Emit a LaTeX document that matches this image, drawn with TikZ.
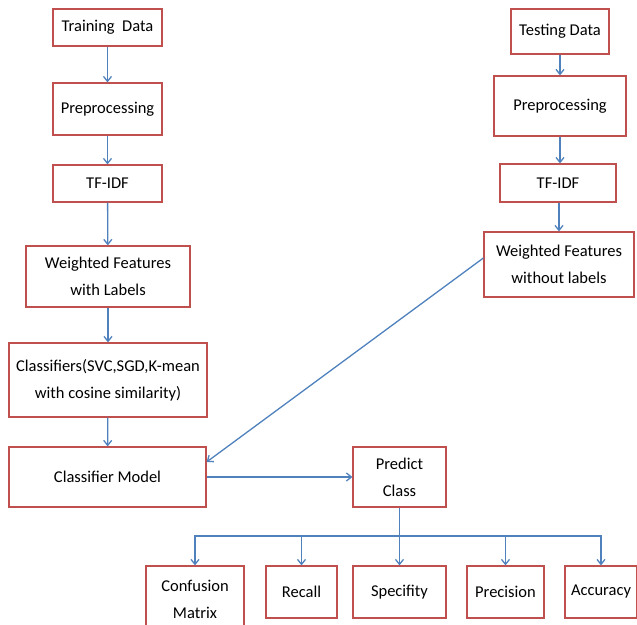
\documentclass[tikz,border=0pt]{standalone}
\usepackage{fontspec}
\setmainfont{Carlito}
\usepackage{tikz}
\usetikzlibrary{arrows.meta, positioning}
\definecolor{boxred}{RGB}{192,80,77}
\definecolor{arrowblue}{RGB}{79,129,189}
\tikzset{
		box/.style={draw=boxred, line width=1.2pt, fill=white, align=center,
			inner sep=2pt, font=\fontsize{16.5}{27}\selectfont},
		flow/.style={draw=arrowblue, line width=1.3pt}
	}

\begin{document}
\begin{tikzpicture}[x=1pt, y=-1pt, >={Straight Barb[length=5pt,width=8pt]}]
				\useasboundingbox (0,0) rectangle (637,624);
				% training side
				\node[box, minimum width=109pt, minimum height=37pt] (train)  at (107.5,27.5) {Training\ \ Data};
				\node[box, minimum width=109pt, minimum height=52pt] (prepL)  at (107.5,109)  {Preprocessing};
				\node[box, minimum width=109pt, minimum height=37pt] (tfidfL) at (107.5,183.5) {TF-IDF};
				\node[box, minimum width=164pt, minimum height=61pt] (wfL)    at (108,276.5)  {Weighted Features\\with Labels};
				\node[box, minimum width=198pt, minimum height=74pt] (clf)    at (108,380)    {Classifiers(SVC,SGD,K-mean\\with cosine similarity)};
				\node[box, minimum width=197pt, minimum height=60pt] (model)  at (107.5,477)  {Classifier Model};
				% testing side
				\node[box, minimum width=98pt,  minimum height=45pt] (test)   at (560,31.5)   {Testing Data};
				\node[box, minimum width=132pt, minimum height=60pt] (prepR)  at (560,106)    {Preprocessing};
				\node[box, minimum width=116pt, minimum height=38pt] (tfidfR) at (558,183)    {TF-IDF};
				\node[box, minimum width=150pt, minimum height=65pt] (wfR)    at (559,264.5)  {Weighted Features\\without labels};
				% prediction and measures
				\node[box, minimum width=93pt,  minimum height=60pt] (predict) at (399.5,477) {Predict\\Class};
				\node[box, minimum width=98pt,  minimum height=66pt] (cm)     at (195,599)    {Confusion\\Matrix};
				\node[box, minimum width=71pt,  minimum height=52pt] (recall) at (301.5,592)  {Recall};
				\node[box, minimum width=93pt,  minimum height=52pt] (spec)   at (399.5,592)  {Specifity};
				\node[box, minimum width=77pt,  minimum height=52pt] (prec)   at (505.5,592)  {Precision};
				\node[box, minimum width=72pt,  minimum height=52pt] (acc)    at (601,592)    {Accuracy};
				\coordinate (bus) at (399.5,536);

				\draw[flow,->] (train) -- (prepL);
				\draw[flow,->] (prepL) -- (tfidfL);
				\draw[flow,->] (tfidfL) -- (wfL);
				\draw[flow,->] (wfL) -- (clf);
				\draw[flow,->] (clf) -- (model);
				\draw[flow,->] (test) -- (prepR);
				\draw[flow,->] (prepR.south) -- (prepR.south |- tfidfR.north);
				\draw[flow,->] (tfidfR.south -| wfR.north) -- (wfR.north);
				\draw[flow,->] ([yshift=6.5pt]wfR.west) -- ([yshift=15pt]model.east);
				\draw[flow,->] (model) -- (predict);
				\draw[flow,->] (predict) -- (spec);
				\draw[flow,->] (bus) -| (cm.north);
				\draw[flow,->] (bus) -| (recall.north);
				\draw[flow,->] (bus) -| (prec.north);
				\draw[flow,->] (bus) -| (acc.north);
			\end{tikzpicture}
\end{document}
